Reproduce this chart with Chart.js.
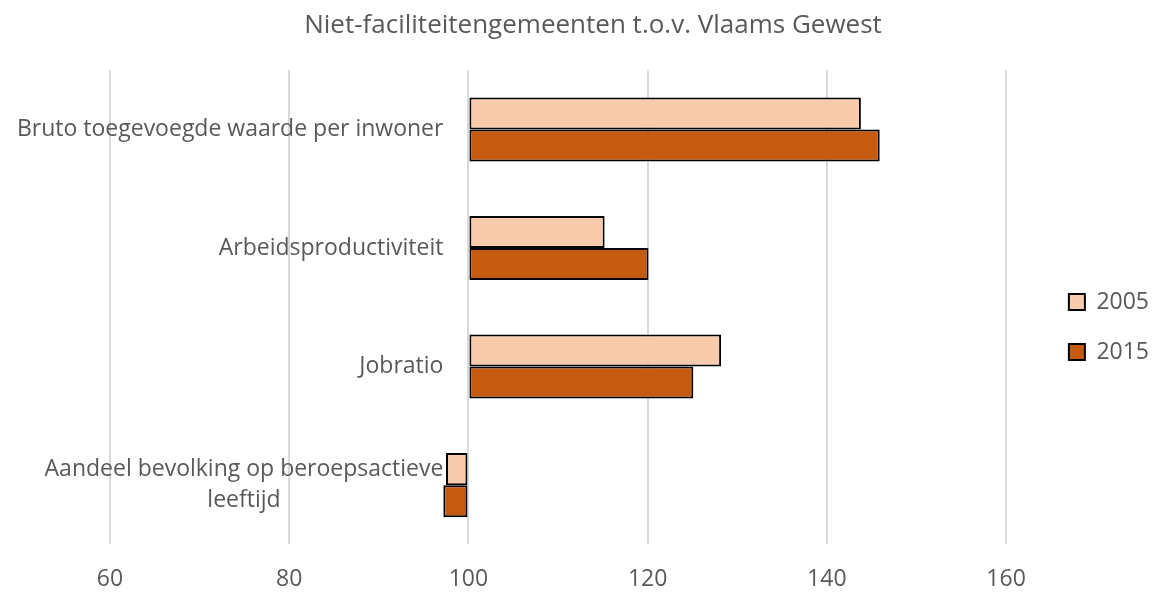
<!DOCTYPE html>
<html>
<head>
<meta charset="utf-8">
<script src="https://cdn.jsdelivr.net/npm/chart.js@4/dist/chart.umd.min.js"></script>
<style>
  html, body { margin: 0; padding: 0; background: #ffffff; }
  #wrap { width: 1152px; height: 592px; }
</style>
</head>
<body>
<div id="wrap"><canvas id="c"></canvas></div>
<script>
const categories = [
  "Bruto toegevoegde waarde per inwoner",
  "Arbeidsproductiviteit",
  "Jobratio",
  ["Aandeel bevolking op beroepsactieve", "leeftijd"]
];
const seriesNames = ["2005", "2015"];
const values2005 = [143.8, 115.2, 128.2, 97.5];
const values2015 = [145.9, 120.1, 125.1, 97.2];
const xTicks = [60, 80, 100, 120, 140, 160];
const baseValue = 100;
const titleText = "Niet-faciliteitengemeenten t.o.v. Vlaams Gewest";

const FONT = "'Open Sans', sans-serif";
const TEXT = "#595959";

const categoryLabels = {
  id: 'categoryLabels',
  afterDatasetsDraw(chart) {
    const ctx = chart.ctx;
    const y = chart.scales.y;
    const x = chart.scales.x;
    const right = x.getPixelForValue(baseValue) - 25;
    ctx.save();
    ctx.font = "23px " + FONT;
    ctx.fillStyle = TEXT;
    ctx.textBaseline = 'middle';
    categories.forEach((lab, i) => {
      const cy = y.getPixelForValue(i);
      const lines = Array.isArray(lab) ? lab : [lab];
      const widths = lines.map(l => ctx.measureText(l).width);
      const maxW = Math.max(...widths);
      const cx = right - maxW / 2;
      const lh = 31;
      const y0 = cy - (lines.length - 1) * lh / 2;
      ctx.textAlign = 'center';
      lines.forEach((l, k) => ctx.fillText(l, cx, y0 + k * lh));
    });
    ctx.restore();
  }
};

new Chart(document.getElementById('c'), {
  type: 'bar',
  data: {
    labels: categories.map(c => Array.isArray(c) ? c.join(' ') : c),
    datasets: [
      { label: seriesNames[0], data: values2005, backgroundColor: '#F8CBAD', borderColor: '#000000', borderWidth: 2, borderSkipped: false, base: baseValue },
      { label: seriesNames[1], data: values2015, backgroundColor: '#C55A11', borderColor: '#000000', borderWidth: 2, borderSkipped: false, base: baseValue }
    ]
  },
  options: {
    indexAxis: 'y',
    responsive: true,
    maintainAspectRatio: false,
    animation: false,
    datasets: { bar: { categoryPercentage: 0.54, barPercentage: 1.0 } },
    layout: { padding: { left: 27, right: -7, top: 0, bottom: -22 } },
    scales: {
      x: {
        type: 'linear',
        min: 60,
        max: 164.0,
        afterBuildTicks(scale) { scale.ticks = xTicks.map(v => ({ value: v })); },
        ticks: { stepSize: 20, includeBounds: false, color: TEXT, font: { family: FONT, size: 23 }, padding: 21, maxRotation: 0 },
        grid: { color: '#d9d9d9', lineWidth: 2, drawTicks: false },
        border: { display: false }
      },
      y: {
        type: 'category',
        display: true,
        ticks: { display: false },
        grid: { display: false, drawTicks: false },
        border: { display: false },
        afterFit(scale) { scale.width = 83; }
      }
    },
    plugins: {
      title: {
        display: true,
        text: titleText,
        color: TEXT,
        font: { family: FONT, size: 26, weight: 'normal' },
        padding: { top: 10, bottom: 29 }
      },
      legend: {
        position: 'right',
        title: { display: true, text: ' ', font: { size: 12 }, padding: { top: 0, bottom: 25.6 } },
        labels: {
          color: TEXT,
          font: { family: FONT, size: 23 },
          boxWidth: 16,
          boxHeight: 16,
          padding: 27
        }
      },
      tooltip: { enabled: false }
    }
  },
  plugins: [categoryLabels]
});
</script>
</body>
</html>
